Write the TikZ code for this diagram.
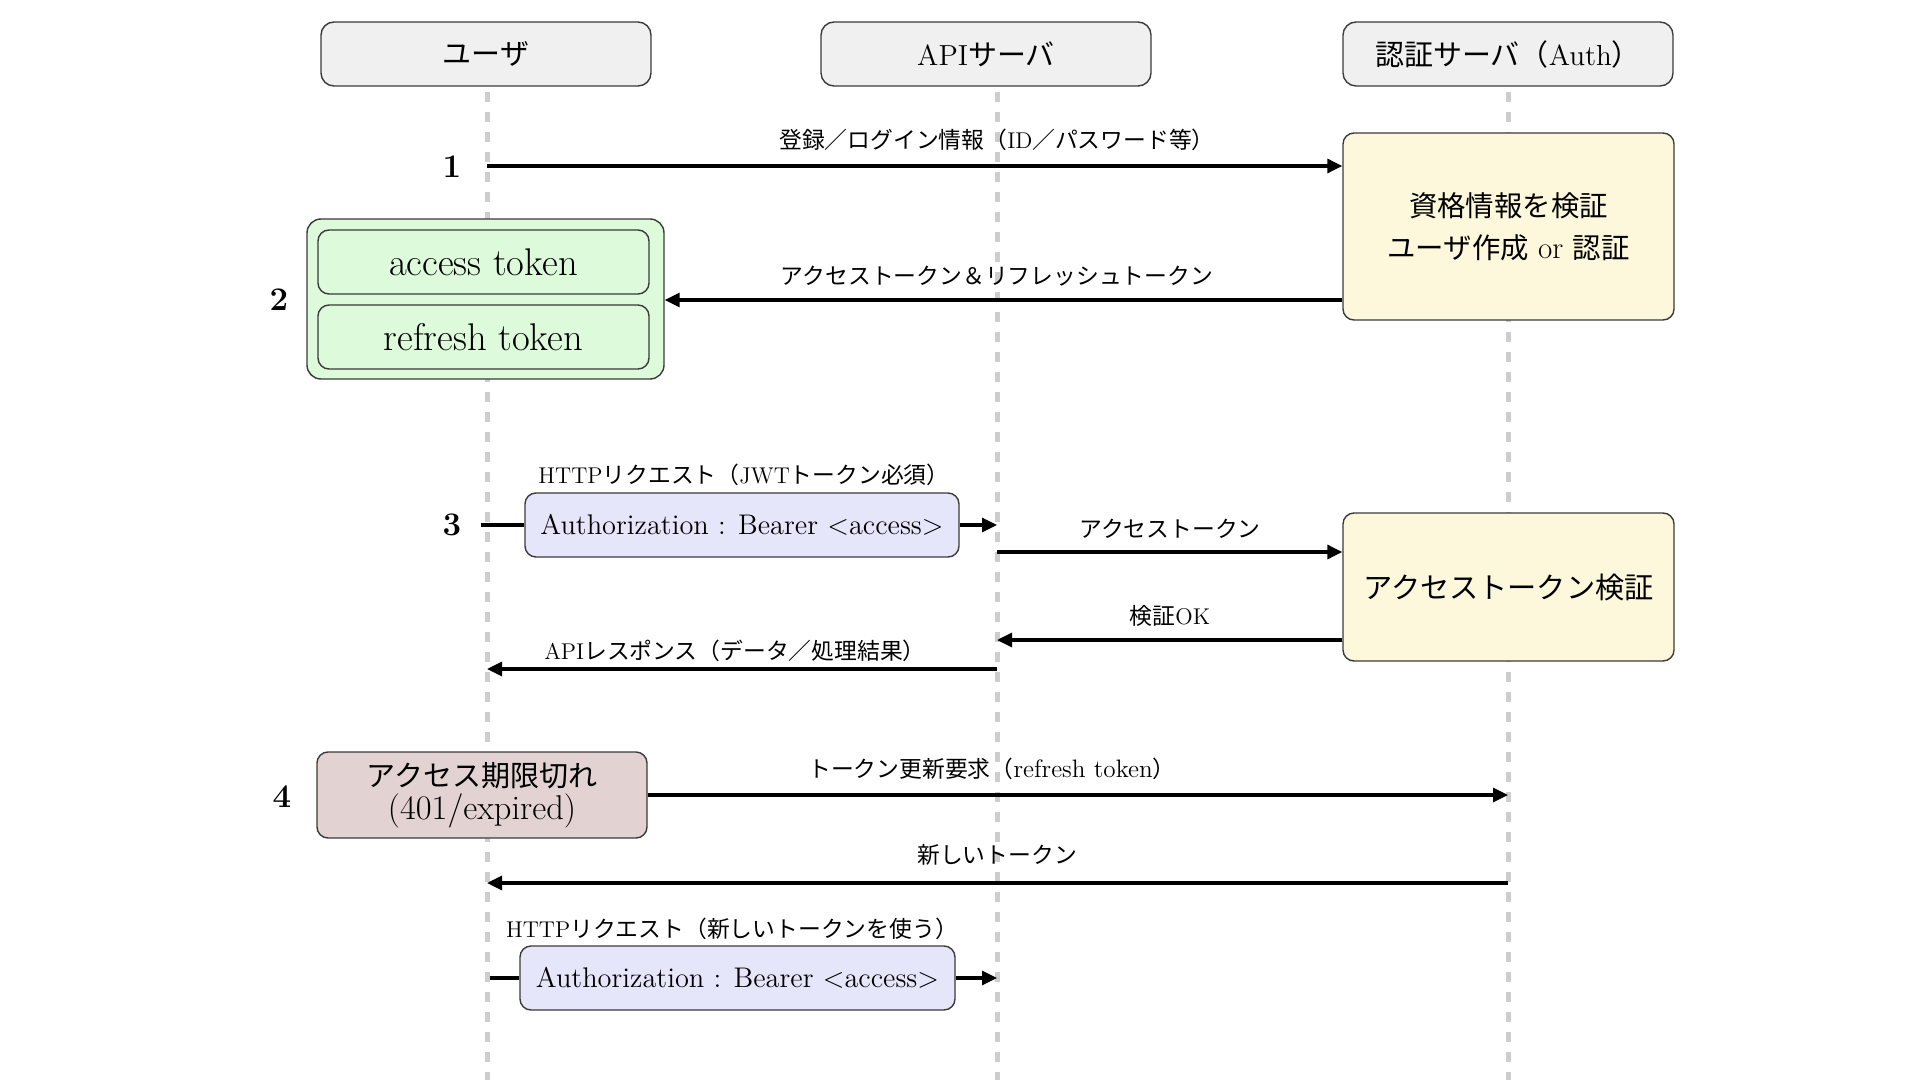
\documentclass[tikz,border=0pt]{standalone}
\usepackage{fontspec}
\usepackage{tikz}
\usetikzlibrary{arrows.meta}
\newfontfamily\jp{Noto Sans CJK JP}
% Japanese runs switch to the CJK font by themselves
\XeTeXinterchartokenstate=1
\newXeTeXintercharclass\JPclass
\newcount\jpc
\newcommand{\setjpclass}[2]{\jpc=#1\relax
  \loop\XeTeXcharclass\jpc=\JPclass\relax\ifnum\jpc<#2\relax\advance\jpc by 1\relax\repeat}
\setjpclass{"3000}{"30FF}
\setjpclass{"4E00}{"9FFF}
\setjpclass{"FF00}{"FFEF}
\XeTeXinterchartoks 0 \JPclass = {\begingroup\jp}
\XeTeXinterchartoks 4095 \JPclass = {\begingroup\jp}
\XeTeXinterchartoks \JPclass 0 = {\endgroup}
\XeTeXinterchartoks \JPclass 4095 = {\endgroup}
\definecolor{actorbg}{HTML}{F0F0F0}
\definecolor{tokbg}{HTML}{DDFADA}
\definecolor{authbg}{HTML}{FDF8DB}
\definecolor{reqbg}{HTML}{E6E6FA}
\definecolor{expbg}{HTML}{E2D3D2}
\definecolor{boxline}{HTML}{3A3A3A}
\definecolor{lifegray}{HTML}{CDCDCD}

\begin{document}
\begin{tikzpicture}[x=.5pt, y=-.5pt,
  actor/.style={draw=boxline, fill=actorbg, line width=.7pt, rounded corners=6.5pt,
    minimum width=165pt, minimum height=32pt, font=\fontsize{14.5}{17}\selectfont},
  tbox/.style={draw=boxline, line width=.7pt, rounded corners=5.5pt, minimum width=#1,
    minimum height=32pt, inner sep=2pt, align=center, font=\fontsize{14.2}{21}\selectfont},
  life/.style={draw=lifegray, line width=2.5pt, dash pattern=on 5pt off 5pt},
  plain/.style={line width=1.6pt},
  msg/.style={line width=1.6pt, -{Triangle[length=7.5pt,width=7pt]}},
  lbl/.style={font=\fontsize{11.4}{13}\selectfont, inner sep=0pt},
  num/.style={font=\fontsize{16.5}{19}\selectfont\bfseries}]
\useasboundingbox (0,0) rectangle (1920,1080);
\newcommand{\msglabel}[3]{\node[lbl] (#1) at (#2) {#3};}%

% lifelines
\coordinate (uL) at (487,92);
\coordinate (aL) at (997,92);
\coordinate (sL) at (1508,92);
\coordinate (bot) at (0,1080);
\foreach \l in {uL,aL,sL} {
  \draw[life] (\l) -- (\l |- bot);
}

% participants
\node[actor] (user) at (486,54) {ユーザ};
\node[actor] (api) at (986,54) {APIサーバ};
\node[actor] (auth) at (1508,54) {認証サーバ（Auth）};

% 1 / 2 : sign up or log in
\node[tbox=165.5pt, fill=authbg, minimum height=93.5pt] (check) at (1508.5,226.5) {資格情報を検証\\ユーザ作成 {\fontsize{15.5}{21}\selectfont or} 認証};
\node[draw=boxline, line width=.7pt, fill=tokbg, rounded corners=7pt, minimum width=178.5pt, minimum height=80pt] (tokens) at (485.5,299) {};
\node[tbox=165.5pt, fill=tokbg, font=\fontsize{19.3}{21}\selectfont] (access) at (483.5,262) {access token};
\node[tbox=165.5pt, fill=tokbg, font=\fontsize{19.3}{21}\selectfont] (refresh) at (483.5,337) {refresh token};
\coordinate (r1) at (0,166);
\coordinate (r2) at (0,300);
\draw[msg] (uL |- r1) -- (check.west |- r1);
\draw[msg] (check.west |- r2) -- (tokens.east |- r2);
\msglabel{t1}{997,140}{登録／ログイン情報（ID／パスワード等）}
\msglabel{t2}{997,276}{アクセストークン＆リフレッシュトークン}
\node[num] (n1) at (452,167) {1};
\node[num] (n2) at (279,300) {2};

% 3 : call the API with the access token
\node[tbox=217pt, fill=reqbg] (req1) at (742,525) {Authorization : Bearer <access>};
\node[tbox=165.5pt, fill=authbg, minimum height=74pt, font=\fontsize{14.6}{21}\selectfont] (verify) at (1508.5,587) {アクセストークン検証};
\coordinate (s3) at (481,525);
\coordinate (r4) at (0,552);
\coordinate (r5) at (0,640);
\coordinate (r6) at (0,669);
\draw[plain] (s3) -- (req1.west);
\draw[msg] (req1.east) -- (aL |- req1.east);
\draw[msg] (aL |- r4) -- (verify.west |- r4);
\draw[msg] (verify.west |- r5) -- (aL |- r5);
\draw[msg] (aL |- r6) -- (uL |- r6);
\msglabel{t3}{744,475}{HTTPリクエスト（JWTトークン必須）}
\msglabel{t4}{1170,529}{アクセストークン}
\msglabel{t5}{1170,616}{検証OK}
\msglabel{t6}{735,651}{APIレスポンス（データ／処理結果）}
\node[num] (n3) at (452,525) {3};

% 4 : refresh after expiry
\node[tbox=165pt, fill=expbg, minimum height=43pt, font=\fontsize{14.5}{16.5}\selectfont] (expired) at (482,795) {アクセス期限切れ\\{\fontsize{17.2}{16.5}\selectfont (401/expired)}};
\node[tbox=217.5pt, fill=reqbg] (req2) at (737.5,978) {Authorization : Bearer <access>};
\coordinate (r8) at (0,883);
\coordinate (s9) at (490,978);
\draw[msg] (expired.east) -- (sL |- expired.east);
\draw[msg] (sL |- r8) -- (uL |- r8);
\draw[plain] (s9) -- (req2.west);
\draw[msg] (req2.east) -- (aL |- req2.east);
\msglabel{t7}{992,769}{トークン更新要求（{\fontsize{12.6}{13}\selectfont refresh token}）}
\msglabel{t8}{997,855}{新しいトークン}
\msglabel{t9}{732,929}{HTTPリクエスト（新しいトークンを使う）}
\node[num] (n4) at (282,797) {4};
\end{tikzpicture}
\end{document}
